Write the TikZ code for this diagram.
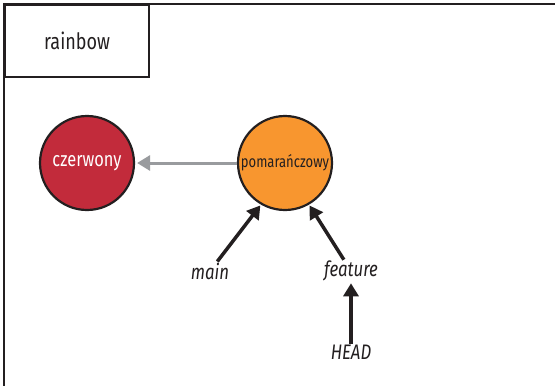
\documentclass[tikz,border=0pt]{standalone}
\usepackage{fontspec}
\setmainfont{Fira Sans}[FakeStretch=0.8]
\usetikzlibrary{arrows.meta}
\definecolor{cred}{HTML}{C22B3B}
\definecolor{corange}{HTML}{F8962F}
\definecolor{cgray}{HTML}{999B9E}
\definecolor{cline}{HTML}{231F20}
\tikzset{
  commit/.style={circle, draw=cline, line width=2.2pt, minimum size=94pt, inner sep=0pt},
  ref/.style={font=\itshape\fontsize{21}{23}\selectfont, text=cline, inner sep=1pt},
  refarrow/.style={draw=cline, line width=3.5pt, -{Triangle[length=13pt,width=15pt]}, shorten >=1pt},
  parentarrow/.style={draw=cgray, line width=3pt, -{Triangle[length=13pt,width=15pt]}, shorten >=2pt},
  frame/.style={draw=cline, line width=2.2pt}
}
\begin{document}
\begin{tikzpicture}[x=1pt,y=-1pt]
\useasboundingbox (0,0) rectangle (555,386);
\fill[white] (0,0) rectangle (555,386);
\draw[frame] (4,400) -- (4,4) -- (570,4);
\node[frame, draw, minimum width=144pt, minimum height=72pt, anchor=north west, inner sep=0pt, font=\fontsize{22.5}{24}\selectfont, text=cline] (branch) at (4,4) {rainbow};
\node[commit, fill=cred, text=white, font=\fontsize{20.5}{22}\selectfont] (red) at (87,163) {czerwony};
\node[commit, fill=corange, text=cline, font=\fontsize{16.3}{18}\selectfont] (orange) at (285,163) {pomarańczowy};
\draw[parentarrow] (orange.west) -- (red.east);
\node[ref] (main) at (210,271) {main};
\node[ref] (feature) at (351,271) {feature};
\node[ref] (head) at (351,352) {HEAD};
\draw[refarrow] (main) -- (orange.240);
\draw[refarrow] (feature) -- (orange.300);
\draw[refarrow] (head) -- (feature);
\end{tikzpicture}
\end{document}
